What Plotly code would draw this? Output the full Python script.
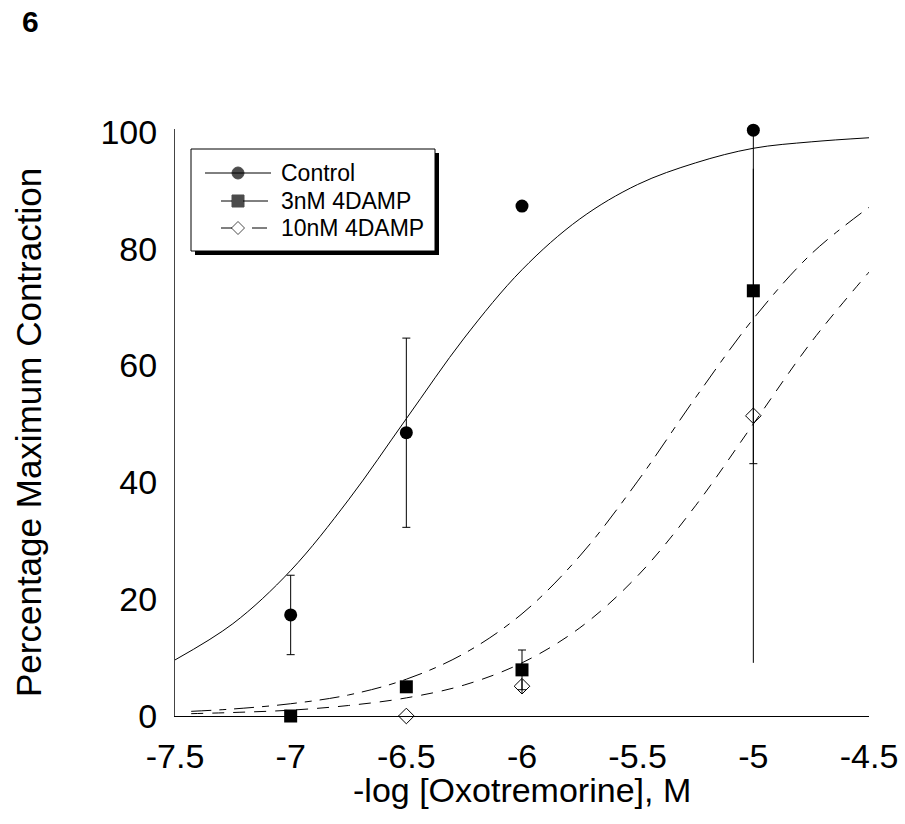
import plotly.graph_objects as go

# Measured responses (mean, SEM) at each agonist concentration
conc = [-7.0, -6.5, -6.0, -5.0]

control_y = [17.3, 48.5, 87.3, 100.3]
control_err = [6.8, 16.2, 0.0, 0.0]

damp3_y = [0.0, 5.0, 7.9, 72.8]
damp3_err_plus = [0.0, 0.0, 3.4, 27.5]
damp3_err_minus = [0.0, 0.0, 3.4, 29.6]

damp10_y = [None, 0.0, 5.1, 51.4]
damp10_err = [0.0, 0.0, 1.2, 42.3]

# Fitted concentration-response curves
curve_x = [-7.5, -7.25, -7.0, -6.75, -6.5, -6.25, -6.0, -5.75, -5.5, -5.25, -5.0, -4.75, -4.5]
control_fit = [9.6, 15.8, 24.9, 37.0, 50.9, 64.7, 76.4, 85.1, 91.0, 94.7, 97.2, 98.3, 99.0]

dashed_x = [-7.43, -7.25, -7.0, -6.75, -6.5, -6.25, -6.0, -5.75, -5.5, -5.25, -5.0, -4.75, -4.5]
damp3_fit = [0.8, 1.2, 2.1, 3.6, 6.3, 10.7, 17.5, 27.4, 40.2, 54.5, 68.0, 79.1, 87.1]
damp10_fit = [0.4, 0.6, 1.0, 1.8, 3.1, 5.3, 9.1, 15.1, 24.0, 36.0, 50.0, 64.0, 76.0]

x_ticks = [-7.5, -7.0, -6.5, -6.0, -5.5, -5.0, -4.5]
x_tick_text = ["-7.5", "-7", "-6.5", "-6", "-5.5", "-5", "-4.5"]
y_ticks = [0, 20, 40, 60, 80, 100]

series_names = ["Control", "3nM 4DAMP", "10nM 4DAMP"]

FONT = "Liberation Sans, Arial, sans-serif"

fig = go.Figure()

# fitted curves
fig.add_trace(go.Scatter(x=curve_x, y=control_fit, mode="lines", line_shape="spline",
                         line=dict(color="black", width=1), hoverinfo="skip"))
fig.add_trace(go.Scatter(x=dashed_x, y=damp3_fit, mode="lines", line_shape="spline",
                         line=dict(color="black", width=1, dash="20px,8px,7px,8px"), hoverinfo="skip"))
fig.add_trace(go.Scatter(x=dashed_x, y=damp10_fit, mode="lines", line_shape="spline",
                         line=dict(color="black", width=1, dash="12px,9px"), hoverinfo="skip"))

# data points with error bars
fig.add_trace(go.Scatter(
    x=conc, y=control_y, mode="markers", name=series_names[0],
    marker=dict(symbol="circle", size=13, color="black"),
    error_y=dict(type="data", array=control_err, visible=True, color="black", thickness=1, width=4),
    cliponaxis=False))
fig.add_trace(go.Scatter(
    x=conc, y=damp3_y, mode="markers", name=series_names[1],
    marker=dict(symbol="square", size=13, color="black"),
    error_y=dict(type="data", array=damp3_err_plus, arrayminus=damp3_err_minus, visible=True,
                 color="black", thickness=1, width=4),
    cliponaxis=False))
fig.add_trace(go.Scatter(
    x=conc, y=damp10_y, mode="markers", name=series_names[2],
    marker=dict(symbol="diamond-open", size=12, color="black", line=dict(width=1)),
    error_y=dict(type="data", array=damp10_err, visible=True, color="black", thickness=1, width=0),
    cliponaxis=False))

# legend drawn in pixel space on an overlay axis pair
leg_rows = [173, 201, 228]
leg_symbols = ["circle", "square", "diamond-open"]
fig.add_trace(go.Scatter(
    x=[238, 238, 238], y=leg_rows, mode="markers", xaxis="x2", yaxis="y2",
    marker=dict(symbol=leg_symbols, size=[12, 12, 10], color="black", line=dict(width=1, color="black")),
    hoverinfo="skip", cliponaxis=False))

shapes = [
    dict(type="rect", xref="x2", yref="y2", x0=195, x1=439, y0=153, y1=255,
         fillcolor="black", line=dict(width=0), layer="below"),
    dict(type="rect", xref="x2", yref="y2", x0=191, x1=435, y0=149, y1=251,
         fillcolor="white", line=dict(color="black", width=1), layer="below"),
    # Control glyph: solid line
    dict(type="line", xref="x2", yref="y2", x0=205, x1=271, y0=leg_rows[0], y1=leg_rows[0],
         line=dict(color="black", width=1), layer="below"),
    # 3nM glyph
    dict(type="line", xref="x2", yref="y2", x0=221, x1=232, y0=leg_rows[1], y1=leg_rows[1],
         line=dict(color="black", width=1), layer="below"),
    dict(type="line", xref="x2", yref="y2", x0=243, x1=268, y0=leg_rows[1], y1=leg_rows[1],
         line=dict(color="black", width=1), layer="below"),
    # 10nM glyph
    dict(type="line", xref="x2", yref="y2", x0=221, x1=232, y0=leg_rows[2], y1=leg_rows[2],
         line=dict(color="black", width=1), layer="below"),
    dict(type="line", xref="x2", yref="y2", x0=252, x1=267, y0=leg_rows[2], y1=leg_rows[2],
         line=dict(color="black", width=1), layer="below"),
]

annotations = [
    dict(text=name, xref="x2", yref="y2", x=279, y=row, xanchor="left", yanchor="middle",
         showarrow=False, font=dict(family=FONT, size=23, color="black"))
    for name, row in zip(series_names, leg_rows)
]
annotations += [
    dict(text="<b>6</b>", xref="paper", yref="paper", x=(30 - 175) / 694, y=(716 - 22) / 587,
         xanchor="center", yanchor="middle", showarrow=False,
         font=dict(family=FONT, size=30, color="black")),
    dict(text="-log [Oxotremorine], M", xref="paper", yref="paper", x=0.5, y=(716 - 790) / 587,
         xanchor="center", yanchor="middle", showarrow=False,
         font=dict(family=FONT, size=34, color="black")),
    dict(text="Percentage Maximum Contraction", xref="paper", yref="paper",
         x=(28 - 175) / 694, y=(716 - 433) / 587, textangle=-90,
         xanchor="center", yanchor="middle", showarrow=False,
         font=dict(family=FONT, size=35, color="black")),
]

fig.update_layout(
    width=905, height=824,
    margin=dict(l=175, r=36, t=129, b=108),
    paper_bgcolor="white", plot_bgcolor="white",
    showlegend=False,
    font=dict(family=FONT, color="black"),
    xaxis=dict(range=[-7.5, -4.5], tickvals=x_ticks, ticktext=x_tick_text,
               showline=True, linecolor="black", linewidth=1, ticks="",
               showgrid=False, zeroline=False, ticklabelstandoff=10, automargin=False,
               tickfont=dict(family=FONT, size=34, color="black")),
    yaxis=dict(range=[0, 100.5], tickvals=y_ticks, showline=True, linecolor="#444",
               linewidth=1, ticks="", showgrid=False, zeroline=False, ticklabelstandoff=10,
               automargin=False, tickfont=dict(family=FONT, size=34, color="black")),
    xaxis2=dict(overlaying="x", range=[175, 869], visible=False, fixedrange=True),
    yaxis2=dict(overlaying="y", range=[716, 129], visible=False, fixedrange=True),
    shapes=shapes,
    annotations=annotations,
)

fig.write_html("out.html")
